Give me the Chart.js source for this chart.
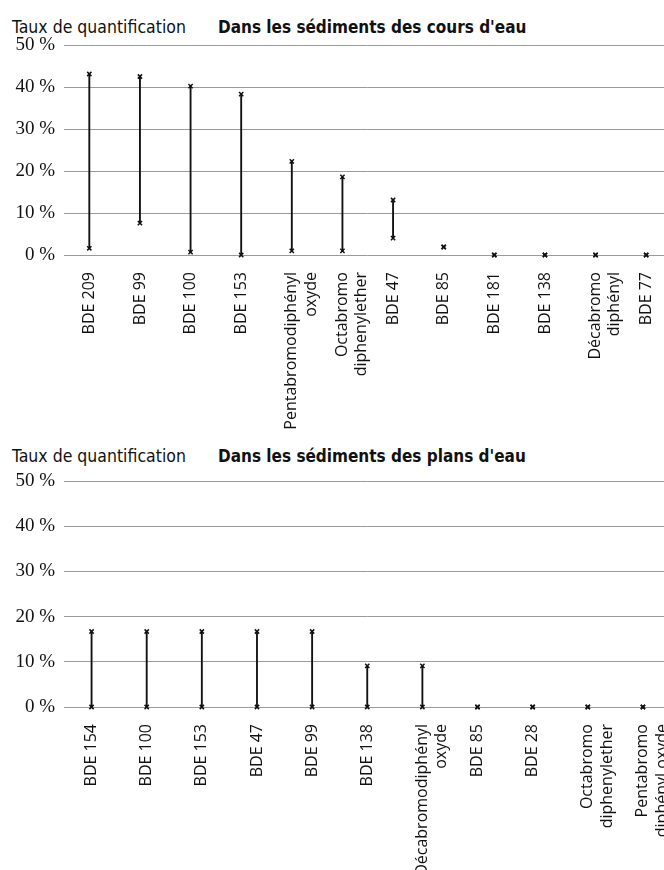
<!DOCTYPE html>
<html>
<head>
<meta charset="utf-8">
<script src="https://cdn.jsdelivr.net/npm/chart.js@4"></script>
<style>
  html, body { margin: 0; padding: 0; width: 664px; height: 870px; overflow: hidden; background: #fff; }
  .wrap { position: absolute; left: 0; }
  .head { position: absolute; left: 12px; font-family: "Liberation Sans Narrow", "DejaVu Sans Condensed", sans-serif; font-size: 17.5px; color: #111; white-space: nowrap; }
  .head b { position: absolute; left: 206px; font-size: 17px; font-weight: bold; }
</style>
</head>
<body>
<div class="head" style="top:17px">Taux de quantification<b>Dans les sédiments des cours d'eau</b></div>
<div class="wrap" style="top:0;width:677px;height:440px"><canvas id="coursChart"></canvas></div>
<div class="head" style="top:446px">Taux de quantification<b>Dans les sédiments des plans d'eau</b></div>
<div class="wrap" style="top:440px;width:676px;height:430px"><canvas id="plansChart"></canvas></div>
<script>
// cours d'eau : taux min / max (%)
const coursLabels = ['BDE 209', 'BDE 99', 'BDE 100', 'BDE 153', ['Pentabromodiphényl', 'oxyde'],
  ['Octabromo', 'diphenylether'], 'BDE 47', 'BDE 85', 'BDE 181', 'BDE 138', ['Décabromo', 'diphényl'], 'BDE 77'];
const coursMin = [1.6, 7.6, 0.7, 0, 1.0, 1.0, 4.0, 1.9, 0, 0, 0, 0];
const coursMax = [43.1, 42.5, 40.2, 38.3, 22.3, 18.6, 13.1, 1.9, 0, 0, 0, 0];

// plans d'eau
const plansLabels = ['BDE 154', 'BDE 100', 'BDE 153', 'BDE 47', 'BDE 99', 'BDE 138',
  ['Décabromodiphényl', 'oxyde'], 'BDE 85', 'BDE 28', ['Octabromo', 'diphenylether'], ['Pentabromo', 'diphényl oxyde']];
const plansMin = [0, 0, 0, 0, 0, 0, 0, 0, 0, 0, 0];
const plansMax = [16.7, 16.7, 16.7, 16.7, 16.7, 9.1, 9.1, 0, 0, 0, 0];

const yTicks = [0, 10, 20, 30, 40, 50];

function makeChart(id, labels, mins, maxs, topPad, axisHeight) {
  const ctx = document.getElementById(id).getContext('2d');
  const marker = {
    type: 'line', showLine: false, pointStyle: 'crossRot', pointRadius: 3,
    borderColor: '#111', pointBorderWidth: 1.5, clip: false
  };
  return new Chart(ctx, {
    type: 'bar',
    data: {
      labels: labels,
      datasets: [
        {
          label: 'écart',
          data: mins.map((m, i) => [m, maxs[i]]),
          backgroundColor: '#111',
          barThickness: 1.2,
          grouped: false
        },
        Object.assign({ label: 'max', data: maxs }, marker),
        Object.assign({ label: 'min', data: mins }, marker)
      ]
    },
    options: {
      responsive: true,
      maintainAspectRatio: false,
      animation: false,
      layout: { padding: { top: topPad, right: 0, left: 0, bottom: 0 } },
      plugins: { legend: { display: false }, tooltip: { enabled: false } },
      scales: {
        x: {
          grid: { display: false },
          border: { display: false },
          ticks: {
            autoSkip: false, maxRotation: 90, minRotation: 90, padding: 9,
            color: '#111', font: { family: 'Open Sans', size: 16 }
          },
          afterFit: s => { s.height = axisHeight; s.paddingLeft = 0; s.paddingRight = 0; }
        },
        y: {
          min: 0, max: 50,
          afterBuildTicks: s => { s.ticks = yTicks.map(v => ({ value: v })); },
          grid: { color: '#9a9a9a', lineWidth: 1, drawTicks: false },
          border: { display: false },
          ticks: {
            padding: 9, color: '#111',
            font: { family: 'Liberation Sans Narrow', size: 19 },
            callback: v => v + ' %'
          },
          afterFit: s => { s.width = 64; }
        }
      }
    }
  });
}

makeChart('coursChart', coursLabels, coursMin, coursMax, 45, 185);
makeChart('plansChart', plansLabels, plansMin, plansMax, 41, 163);
</script>
</body>
</html>
